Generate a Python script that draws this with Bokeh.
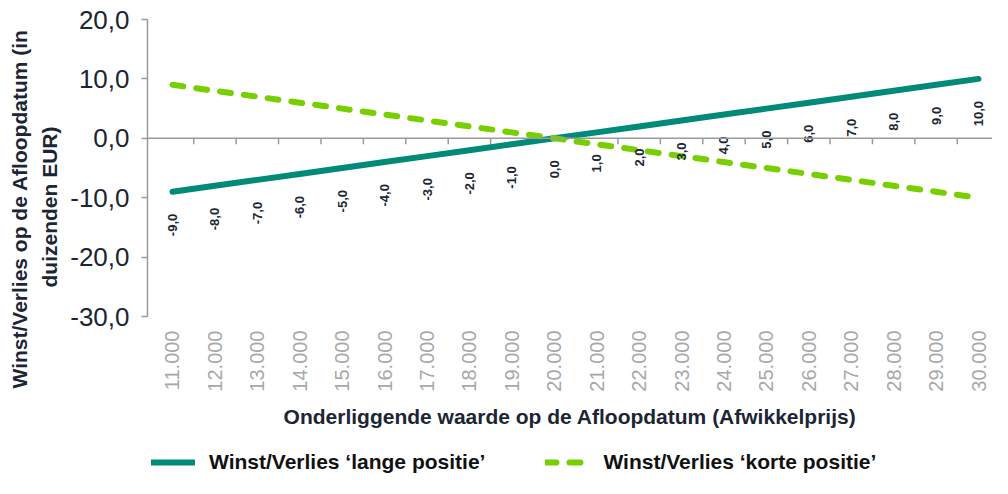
import math
from bokeh.plotting import figure
from bokeh.layouts import column
from bokeh.models import (Range1d, FixedTicker, Span, Title, Legend, LegendItem,
                          ColumnDataSource)
from bokeh.core.properties import value
from bokeh.embed import file_html
from bokeh.resources import INLINE

# ---------------- data ----------------
categories = ["11.000", "12.000", "13.000", "14.000", "15.000", "16.000", "17.000",
              "18.000", "19.000", "20.000", "21.000", "22.000", "23.000", "24.000",
              "25.000", "26.000", "27.000", "28.000", "29.000", "30.000"]
lange = [-9, -8, -7, -6, -5, -4, -3, -2, -1, 0, 1, 2, 3, 4, 5, 6, 7, 8, 9, 10]
korte = [9, 8, 7, 6, 5, 4, 3, 2, 1, 0, -1, -2, -3, -4, -5, -6, -7, -8, -9, -10]
lange_labels = ["-9,0", "-8,0", "-7,0", "-6,0", "-5,0", "-4,0", "-3,0", "-2,0", "-1,0",
                "0,0", "1,0", "2,0", "3,0", "4,0", "5,0", "6,0", "7,0", "8,0", "9,0", "10,0"]
y_ticks = [-30, -20, -10, 0, 10, 20]
y_tick_labels = ["-30,0", "-20,0", "-10,0", "0,0", "10,0", "20,0"]
series_names = ["Winst/Verlies \u2018lange positie\u2019", "Winst/Verlies \u2018korte positie\u2019"]
y_title_lines = ["Winst/Verlies op de Afloopdatum (in", "duizenden EUR)"]
x_title = "Onderliggende waarde op de Afloopdatum (Afwikkelprijs)"

# ---------------- style ----------------
FONT = "Liberation Sans"
TEAL = "#008a78"
GREEN = "#78cf00"
DARK = "#1c2533"
GRAY_AXIS = "#9a9a9a"
GRAY_LABEL = "#a8a8a8"
DASH = "11 13"

xpos = list(range(len(categories)))
src = ColumnDataSource(dict(x=xpos, lange=lange, korte=korte, lbl=lange_labels))

p = figure(width=992, height=446, output_backend="svg", toolbar_location=None,
           x_range=Range1d(-0.589, 19.33), y_range=Range1d(-30, 20),
           min_border_left=147, min_border_right=0, min_border_top=19,
           min_border_bottom=130)
p.outline_line_color = None
p.grid.visible = False
p.background_fill_color = "white"
p.border_fill_color = "white"

# y axis
ya = p.yaxis[0]
ya.ticker = FixedTicker(ticks=y_ticks)
ya.major_label_overrides = {t: l for t, l in zip(y_ticks, y_tick_labels)}
ya.major_label_text_font = FONT
ya.major_label_text_font_size = "26px"
ya.major_label_text_color = DARK
ya.major_label_standoff = 12
ya.axis_line_color = GRAY_AXIS
ya.axis_line_width = 1.5
ya.major_tick_line_color = GRAY_AXIS
ya.major_tick_line_width = 1.5
ya.major_tick_out = 6
ya.major_tick_in = 0
ya.minor_tick_line_color = None

# x axis (labels only, at the bottom)
xa = p.xaxis[0]
xa.ticker = FixedTicker(ticks=xpos)
xa.major_label_overrides = {i: c for i, c in zip(xpos, categories)}
xa.major_label_orientation = math.pi / 2
xa.major_label_text_font = FONT
xa.major_label_text_font_size = "20px"
xa.major_label_text_color = GRAY_LABEL
xa.major_label_standoff = 8
xa.axis_line_color = None
xa.major_tick_line_color = None
xa.minor_tick_line_color = None
xa.axis_label = x_title
xa.axis_label_text_font = FONT
xa.axis_label_text_font_size = "21px"
xa.axis_label_text_font_style = "bold"
xa.axis_label_text_color = DARK
xa.axis_label_standoff = 10

# zero line with category-boundary ticks
p.add_layout(Span(location=0, dimension="width", line_color=GRAY_AXIS, line_width=1.5))
bounds = [i + 0.5 for i in xpos[:-1]]
p.segment(x0=bounds, x1=bounds, y0=[0] * len(bounds), y1=[-1] * len(bounds),
          line_color=GRAY_AXIS, line_width=1.5)

# series
p.line("x", "lange", source=src, line_color=TEAL, line_width=6, line_cap="round")
p.line("x", "korte", source=src, line_color=GREEN, line_width=6,
       line_cap="round", line_dash=DASH)

# data labels (lange positie)
p.text("x", "lange", text="lbl", source=src, angle=math.pi / 2, text_align="right",
       text_baseline="middle", y_offset=22, text_font=value(FONT),
       text_font_size="13px", text_font_style="bold", text_color=DARK)

# y title, two lines as side titles (closest to the axis first)
p.add_layout(Title(text=y_title_lines[1], align="left", offset=29, standoff=11,
                   vertical_align="middle", text_font=FONT, text_font_size="21px",
                   text_font_style="bold", text_color=DARK), "left")
p.add_layout(Title(text=y_title_lines[0], align="left", offset=-72, standoff=0,
                   vertical_align="middle", text_font=FONT, text_font_size="21px",
                   text_font_style="bold", text_color=DARK), "left")

# legend strip below the chart (series drawn outside its visible range,
# so only the legend entries show)
lg = figure(width=992, height=32, output_backend="svg", toolbar_location=None,
            x_range=Range1d(0, 1), y_range=Range1d(100, 101),
            x_axis_type=None, y_axis_type=None, min_border=0)
lg.outline_line_color = None
lg.grid.visible = False
lg.background_fill_color = "white"
lg.border_fill_color = "white"
r1 = lg.line("x", "lange", source=src, line_color=TEAL, line_width=6, line_cap="round")
r2 = lg.line("x", "korte", source=src, line_color=GREEN, line_width=6,
             line_cap="round", line_dash=DASH)
legend = Legend(items=[LegendItem(label=series_names[0], renderers=[r1]),
                       LegendItem(label=series_names[1], renderers=[r2])],
                location=(4, 4), orientation="horizontal",
                glyph_width=44, glyph_height=24, label_standoff=14, spacing=60,
                padding=0, margin=0, border_line_color=None,
                background_fill_alpha=0, label_text_font=FONT,
                label_text_font_size="21px", label_text_font_style="bold",
                label_text_color="#111111")
lg.add_layout(legend, "center")

open("out.html", "w").write(file_html(column(p, lg, spacing=0), INLINE))
